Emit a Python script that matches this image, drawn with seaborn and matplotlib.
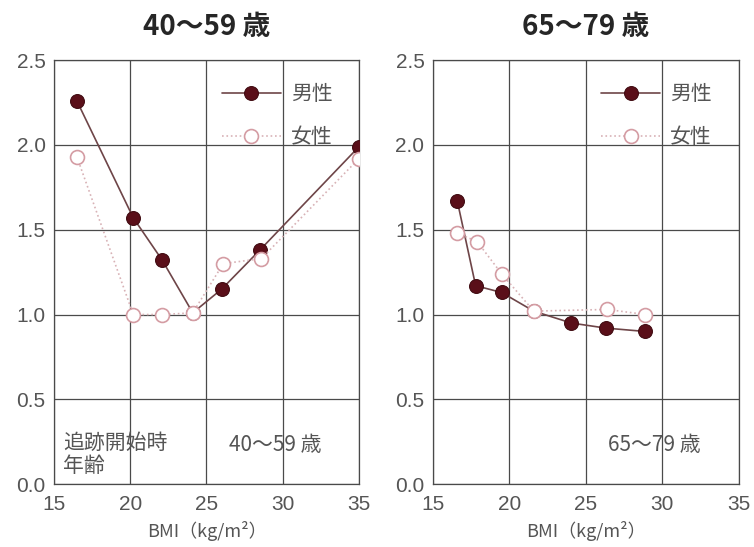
import pandas as pd
import matplotlib.pyplot as plt
import seaborn as sns

# 40～59 歳
bmi_m_40 = [16.5, 20.2, 22.1, 24.1, 26.0, 28.5, 35.0]
rr_m_40 = [2.26, 1.57, 1.32, 1.01, 1.15, 1.38, 1.99]
bmi_f_40 = [16.5, 20.2, 22.1, 24.1, 26.1, 28.6, 35.0]
rr_f_40 = [1.93, 1.00, 1.00, 1.01, 1.30, 1.33, 1.92]

# 65～79 歳
bmi_m_65 = [16.6, 17.8, 19.5, 21.6, 24.05, 26.3, 28.9]
rr_m_65 = [1.67, 1.17, 1.13, 1.02, 0.95, 0.92, 0.90]
bmi_f_65 = [16.6, 17.9, 19.5, 21.6, 26.4, 28.9]
rr_f_65 = [1.48, 1.43, 1.24, 1.02, 1.03, 1.00]

titles = ['40～59 歳', '65～79 歳']
age_labels = ['40～59 歳', '65～79 歳']
xticks = [15, 20, 25, 30, 35]
yticks = [0.0, 0.5, 1.0, 1.5, 2.0, 2.5]

sns.set_style('white')
plt.rcParams['font.family'] = ['Noto Sans CJK JP', 'DejaVu Sans']

fig = plt.figure(figsize=(7.54, 5.47), dpi=100)
ax1 = fig.add_axes([0.0716, 0.115, 0.4045, 0.775])
ax2 = fig.add_axes([0.574, 0.115, 0.4058, 0.775])

panels = [
    (ax1, bmi_m_40, rr_m_40, bmi_f_40, rr_f_40),
    (ax2, bmi_m_65, rr_m_65, bmi_f_65, rr_f_65),
]

grey = '#555555'
for i, (ax, xm, ym, xf, yf) in enumerate(panels):
    df_m = pd.DataFrame({'BMI': xm, 'RR': ym})
    df_f = pd.DataFrame({'BMI': xf, 'RR': yf})
    sns.lineplot(data=df_m, x='BMI', y='RR', ax=ax, color='#6e4548', lw=1.2,
                 marker='o', markersize=10, markerfacecolor='#5a0f19',
                 markeredgecolor='#3f0a10', label='男性', zorder=3)
    sns.lineplot(data=df_f, x='BMI', y='RR', ax=ax, color='#d8b2b6', lw=1.2,
                 linestyle=':', marker='o', markersize=10, markerfacecolor='white',
                 markeredgecolor='#d49ca3', markeredgewidth=1.2, label='女性', zorder=4)

    ax.set_xlim(15, 35)
    ax.set_ylim(0, 2.5)
    ax.set_xticks(xticks)
    ax.set_yticks(yticks)
    ax.set_xticklabels([str(t) for t in xticks], family='Liberation Sans')
    ax.set_yticklabels([f'{t:.1f}' for t in yticks], family='Liberation Sans')
    ax.grid(True, color='#4a4a4a', lw=0.9)
    for s in ax.spines.values():
        s.set_color('#4a4a4a')
        s.set_linewidth(0.9)
    ax.tick_params(labelsize=15, colors=grey, length=0)
    ax.tick_params(axis='x', pad=8)
    ax.tick_params(axis='y', pad=6)
    ax.set_xlabel('BMI（kg/m²）', fontsize=13, color=grey, labelpad=5)
    ax.set_ylabel('')
    ax.set_title(titles[i], fontsize=20, fontweight='bold', pad=18)

    leg = ax.legend(loc='upper left', bbox_to_anchor=(0.49, 0.99), frameon=False,
                    fontsize=15, labelspacing=1.0, handlelength=2.8,
                    handletextpad=0.5, labelcolor=grey)

    ax.text(0.725, 0.092, age_labels[i], transform=ax.transAxes, fontsize=15,
            color=grey, ha='center', va='center')

ax1.text(0.03, 0.07, '追跡開始時\n年齢', transform=ax1.transAxes, fontsize=15,
         color=grey, ha='left', va='center', linespacing=1.1)

plt.savefig('out.png', dpi=100)
